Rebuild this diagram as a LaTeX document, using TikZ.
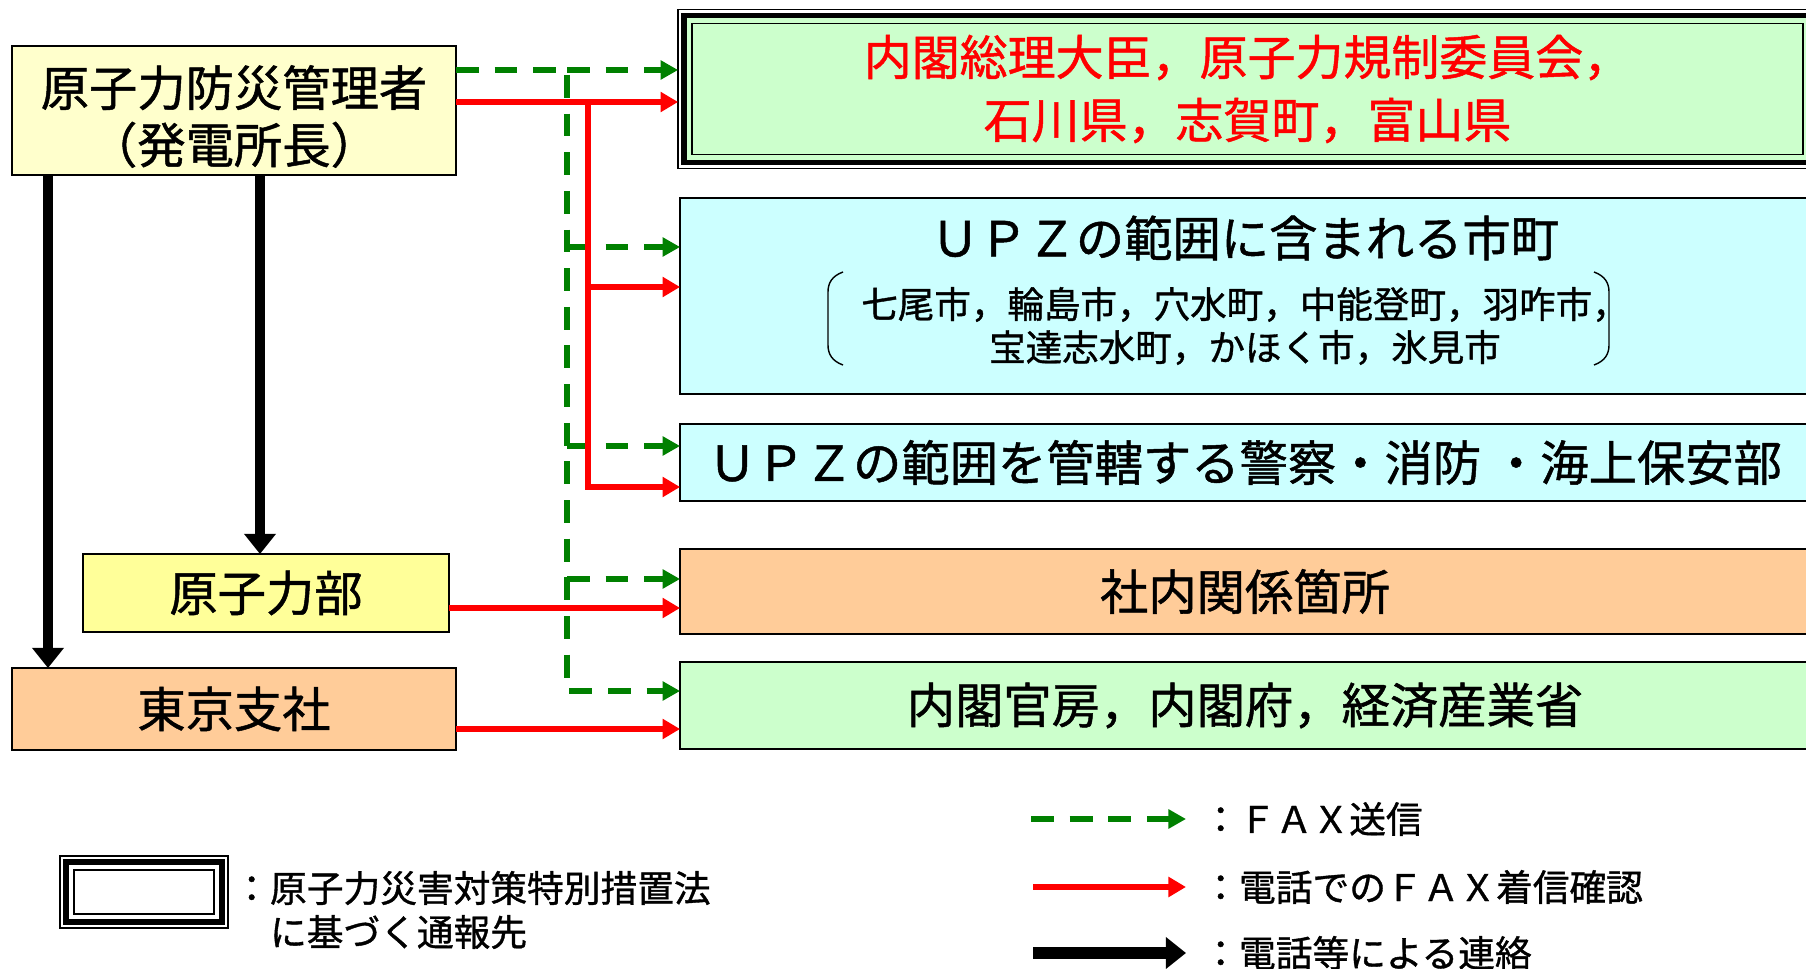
\documentclass[tikz,border=0pt]{standalone}
\usepackage{fontspec}
\setmainfont{Noto Sans CJK JP}[UprightFeatures={FakeBold=1}]
\usepackage{tikz}
\usetikzlibrary{arrows.meta,positioning,calc}

\definecolor{paleyellow}{HTML}{FFFFCC}
\definecolor{lightyellow}{HTML}{FFFF99}
\definecolor{palegreen}{HTML}{CCFFCC}
\definecolor{palecyan}{HTML}{CCFFFF}
\definecolor{paleorange}{HTML}{FFCC99}
\definecolor{faxgreen}{HTML}{008000}

\begin{document}
\begin{tikzpicture}[x=0.02cm, y=-0.02cm,
    orgbox/.style={draw=black, line width=0.9pt, outer sep=0pt, inner sep=0pt, font=\fontsize{27.5}{32.5}\selectfont},
    lawbox/.style={draw=black, line width=0.8pt, fill=white, outer sep=0pt, inner sep=0pt,
        path picture={
            \draw[line width=3.1pt, fill=#1] ([shift={(0.12cm,-0.12cm)}]path picture bounding box.north west) rectangle ([shift={(-0.12cm,0.12cm)}]path picture bounding box.south east);
            \draw[line width=1pt] ([shift={(0.28cm,-0.28cm)}]path picture bounding box.north west) rectangle ([shift={(-0.28cm,0.28cm)}]path picture bounding box.south east);
        }},
    keytext/.style={anchor=west, inner sep=0pt, font=\fontsize{20.9}{25}\selectfont},
    fax/.style={faxgreen, line width=3.7pt, dash pattern=on 13pt off 9pt, -{Triangle[length=10pt,width=10.5pt]}},
    tel/.style={red, line width=3.9pt, -{Triangle[length=10pt,width=11pt]}},
    call/.style={black, line width=5.8pt, -{Triangle[length=11.5pt,width=17.5pt]}}]

    \useasboundingbox (0,0) rectangle (1806,969);
    \clip (0,0) rectangle (1806,969);

    % Senders
    \node[orgbox, fill=paleyellow, minimum width=8.88cm, minimum height=2.58cm] (mgr) at (234,110.5) {};
    \node[font=\fontsize{27.5}{32.5}\selectfont, align=center] (mgrtext) at (234,116.5) {原子力防災管理者\\（発電所長）};
    \node[orgbox, fill=lightyellow, minimum width=7.32cm, minimum height=1.56cm] (dept) at (266,593) {原子力部};
    \node[orgbox, fill=paleorange, minimum width=8.88cm, minimum height=1.64cm] (tokyo) at (234,709) {東京支社};

    % Receivers
    \node[lawbox=palegreen, minimum width=22.78cm, minimum height=3.18cm, align=center, text=red, font=\fontsize{27.3}{35.8}\selectfont] (cabinet) at (1247.5,89) {内閣総理大臣，原子力規制委員会，\\石川県，志賀町，富山県};
    \node[orgbox, fill=palecyan, minimum width=22.6cm, minimum height=3.92cm] (upz) at (1245,296) {};
    \node[font=\fontsize{27.5}{32.5}\selectfont] (upztitle) at (1245,238) {ＵＰＺの範囲に含まれる市町};
    \node[font=\fontsize{20.8}{24.5}\selectfont, align=center] (upzcity) at (1245,326) {七尾市，輪島市，穴水町，中能登町，羽咋市，\\宝達志水町，かほく市，氷見市};
    \node[orgbox, fill=palecyan, minimum width=22.6cm, minimum height=1.54cm] (police) at (1245,462.5) {ＵＰＺの範囲を管轄する警察・消防 ・海上保安部};
    \node[orgbox, fill=paleorange, minimum width=22.6cm, minimum height=1.7cm] (inhouse) at (1245,591.5) {社内関係箇所};
    \node[orgbox, fill=palegreen, minimum width=22.6cm, minimum height=1.74cm] (govt) at (1245,705.5) {内閣官房，内閣府，経済産業省};

    % Brackets round the towns
    \draw[line width=0.8pt] (843,272) .. controls (832,276) and (828,283) .. (828,292) -- (828,345) .. controls (828,354) and (832,361) .. (843,365);
    \draw[line width=0.8pt] (1594,272) .. controls (1605,276) and (1609,283) .. (1609,292) -- (1609,345) .. controls (1609,354) and (1605,361) .. (1594,365);

    % FAX
    \coordinate (g0) at (567,70);
    \coordinate (g1) at (567,247);
    \coordinate (g2) at (567,446);
    \coordinate (g3) at (567,579);
    \coordinate (g4) at (567,691);
    \draw[fax] (mgr.east |- g0) -- (g0) -- (g4) -- (govt.west |- g4);
    \draw[fax] (g0) -- (cabinet.west |- g0);
    \draw[fax] (g1) -- (upz.west |- g1);
    \draw[fax] (g2) -- (police.west |- g2);
    \draw[fax] (g3) -- (inhouse.west |- g3);

    % Phone check of the FAX
    \coordinate (r0) at (588,102);
    \coordinate (r1) at (588,287);
    \coordinate (r2) at (588,487);
    \coordinate (r3) at (0,608);
    \coordinate (r4) at (0,729);
    \draw[tel] (mgr.east |- r0) -- (cabinet.west |- r0);
    \draw[tel] (r0) -- (r2) -- (police.west |- r2);
    \draw[tel] (r1) -- (upz.west |- r1);
    \draw[tel] (dept.east |- r3) -- (inhouse.west |- r3);
    \draw[tel] (tokyo.east |- r4) -- (govt.west |- r4);

    % Phone calls
    \coordinate (k1) at (48,0);
    \coordinate (k2) at (260,0);
    \draw[call] (mgr.south -| k1) -- (tokyo.north -| k1);
    \draw[call] (mgr.south -| k2) -- (dept.north -| k2);

    % Legend
    \node[lawbox=white, minimum width=3.36cm, minimum height=1.44cm] (key) at (144,892) {};
    \node[keytext, align=left] (keylaw) at (233,910) {：原子力災害対策特別措置法\\　に基づく通報先};
    \node[keytext] (keyfax) at (1202,819) {：ＦＡＸ送信};
    \node[keytext] (keytel) at (1202,887) {：電話でのＦＡＸ着信確認};
    \node[keytext] (keycall) at (1202,953) {：電話等による連絡};
    \coordinate (faxfrom) at (1031,819);
    \coordinate (telfrom) at (1033,887);
    \coordinate (callfrom) at (1033,953);
    \draw[fax, shorten >=0.32cm] (faxfrom) -- (keyfax.west);
    \draw[tel, shorten >=0.32cm] (telfrom) -- (keytel.west);
    \draw[call, line width=6.8pt, shorten >=0.32cm] (callfrom) -- (keycall.west);

\end{tikzpicture}
\end{document}
